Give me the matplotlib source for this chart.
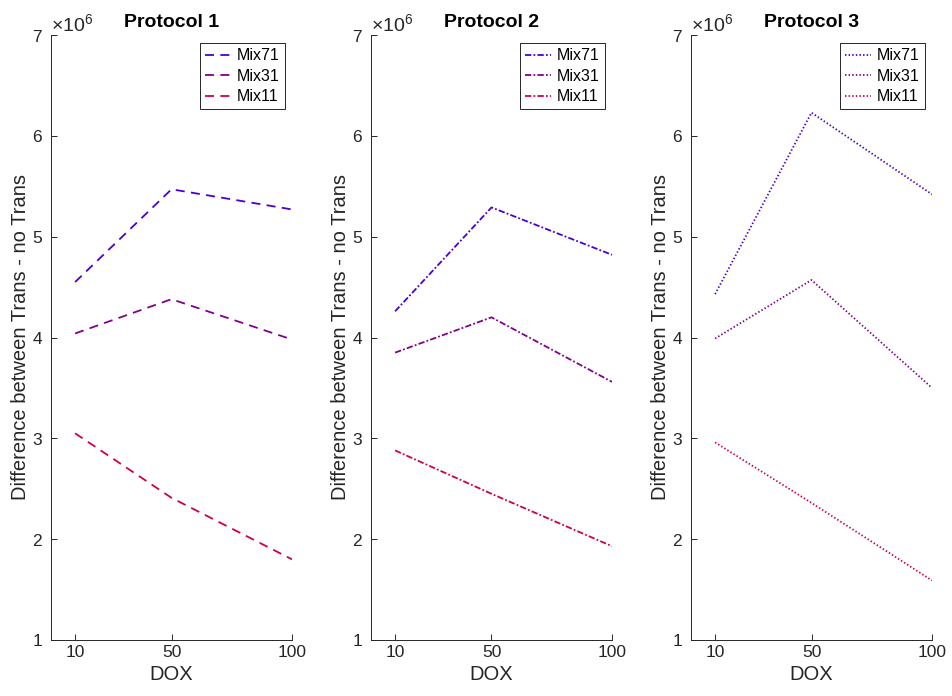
import numpy as np
import matplotlib
matplotlib.use('Agg')
import matplotlib.pyplot as plt
from matplotlib.ticker import ScalarFormatter

plt.rcParams['font.family'] = ['Liberation Sans', 'DejaVu Sans']
plt.rcParams['mathtext.fontset'] = 'custom'
plt.rcParams['mathtext.rm'] = 'Liberation Sans'

dox = [10, 50, 100]
mixes = ['Mix71', 'Mix31', 'Mix11']
mix_colors = ['#4a00d4', '#82008a', '#d00046']

# difference between Trans and no Trans, one list per mix, per protocol
p1_mix71 = [4.55e6, 5.47e6, 5.27e6]
p1_mix31 = [4.04e6, 4.38e6, 3.98e6]
p1_mix11 = [3.05e6, 2.41e6, 1.80e6]

p2_mix71 = [4.26e6, 5.29e6, 4.82e6]
p2_mix31 = [3.85e6, 4.20e6, 3.56e6]
p2_mix11 = [2.88e6, 2.45e6, 1.93e6]

p3_mix71 = [4.43e6, 6.23e6, 5.42e6]
p3_mix31 = [3.99e6, 4.57e6, 3.50e6]
p3_mix11 = [2.96e6, 2.36e6, 1.59e6]

protocols = ['Protocol 1', 'Protocol 2', 'Protocol 3']
series = [[p1_mix71, p1_mix31, p1_mix11],
          [p2_mix71, p2_mix31, p2_mix11],
          [p3_mix71, p3_mix31, p3_mix11]]
dash_styles = [(0, (5, 3.5)), (0, (3.5, 1.2, 1, 1.2)), (0, (0.8, 1.2))]

fig = plt.figure(figsize=(9.52, 6.96), dpi=100)
lefts = [51/952, 371/952, 691/952]
axc = '#262626'

for i in range(3):
    ax = fig.add_axes([lefts[i], 56/696, 241/952, 605/696])
    for j in range(3):
        ax.plot(dox, series[i][j], color=mix_colors[j], linestyle=dash_styles[i],
                lw=1.3, label=mixes[j])
    ax.set_xlim(0, 100)
    ax.set_ylim(1e6, 7e6)
    ax.set_xticks(dox)
    ax.set_yticks(np.arange(1, 8)*1e6)
    fmt = ScalarFormatter(useMathText=True)
    fmt.set_powerlimits((0, 0))
    ax.yaxis.set_major_formatter(fmt)
    ax.yaxis.get_offset_text().set_fontsize(14)
    ax.yaxis.get_offset_text().set_color(axc)
    for s in ['top', 'right']:
        ax.spines[s].set_visible(False)
    for s in ['left', 'bottom']:
        ax.spines[s].set_color(axc)
        ax.spines[s].set_linewidth(0.7)
    ax.tick_params(direction='in', length=4, width=0.7, colors=axc, labelsize=12.5)
    ax.tick_params(axis='y', pad=6)
    ax.set_xlabel('DOX', fontsize=14.5, color=axc, labelpad=4)
    ax.set_ylabel('Difference between Trans - no Trans', fontsize=14.5, color=axc, labelpad=1)
    ax.set_title(protocols[i], fontsize=14, fontweight='bold', pad=6)
    leg = ax.legend(loc='upper right', bbox_to_anchor=(0.97, 0.986), fontsize=11.5,
                    fancybox=False, framealpha=1, edgecolor='#262626',
                    handlelength=1.6, handletextpad=0.4, labelspacing=0.35,
                    borderpad=0.3, borderaxespad=0)
    leg.get_frame().set_linewidth(0.7)

fig.savefig('out.png', dpi=100)
